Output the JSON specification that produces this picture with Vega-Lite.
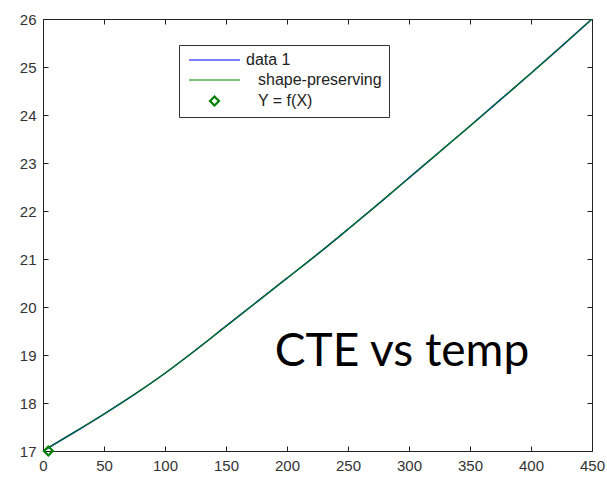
{
  "$schema": "https://vega.github.io/schema/vega-lite/v6.json",
  "width": 549,
  "height": 432,
  "autosize": {"type": "none"},
  "padding": {"left": 43, "top": 19, "right": 15, "bottom": 26},
  "background": "white",
  "config": {
    "view": {"stroke": null},
    "axis": {
      "grid": false,
      "title": null,
      "labelFont": "Liberation Sans",
      "labelFontSize": 15,
      "labelColor": "#333333",
      "labelFlush": false,
      "labelOverlap": false,
      "domainColor": "#222222",
      "tickColor": "#222222",
      "tickSize": -5,
      "labelPadding": 12
    }
  },
  "datasets": {
    "curves": [
      {"series": "data 1", "temp": 0, "cte": 17.0},
      {"series": "data 1", "temp": 25, "cte": 17.38},
      {"series": "data 1", "temp": 50, "cte": 17.77},
      {"series": "data 1", "temp": 75, "cte": 18.18},
      {"series": "data 1", "temp": 100, "cte": 18.62},
      {"series": "data 1", "temp": 125, "cte": 19.1},
      {"series": "data 1", "temp": 150, "cte": 19.6},
      {"series": "data 1", "temp": 175, "cte": 20.1},
      {"series": "data 1", "temp": 200, "cte": 20.6},
      {"series": "data 1", "temp": 225, "cte": 21.1},
      {"series": "data 1", "temp": 250, "cte": 21.62},
      {"series": "data 1", "temp": 275, "cte": 22.15},
      {"series": "data 1", "temp": 300, "cte": 22.69},
      {"series": "data 1", "temp": 325, "cte": 23.23},
      {"series": "data 1", "temp": 350, "cte": 23.77},
      {"series": "data 1", "temp": 375, "cte": 24.32},
      {"series": "data 1", "temp": 400, "cte": 24.87},
      {"series": "data 1", "temp": 425, "cte": 25.43},
      {"series": "data 1", "temp": 450, "cte": 26.0},
      {"series": "shape-preserving", "temp": 0, "cte": 17.0},
      {"series": "shape-preserving", "temp": 25, "cte": 17.38},
      {"series": "shape-preserving", "temp": 50, "cte": 17.77},
      {"series": "shape-preserving", "temp": 75, "cte": 18.18},
      {"series": "shape-preserving", "temp": 100, "cte": 18.62},
      {"series": "shape-preserving", "temp": 125, "cte": 19.1},
      {"series": "shape-preserving", "temp": 150, "cte": 19.6},
      {"series": "shape-preserving", "temp": 175, "cte": 20.1},
      {"series": "shape-preserving", "temp": 200, "cte": 20.6},
      {"series": "shape-preserving", "temp": 225, "cte": 21.1},
      {"series": "shape-preserving", "temp": 250, "cte": 21.62},
      {"series": "shape-preserving", "temp": 275, "cte": 22.15},
      {"series": "shape-preserving", "temp": 300, "cte": 22.69},
      {"series": "shape-preserving", "temp": 325, "cte": 23.23},
      {"series": "shape-preserving", "temp": 350, "cte": 23.77},
      {"series": "shape-preserving", "temp": 375, "cte": 24.32},
      {"series": "shape-preserving", "temp": 400, "cte": 24.87},
      {"series": "shape-preserving", "temp": 425, "cte": 25.43},
      {"series": "shape-preserving", "temp": 450, "cte": 26.0}
    ],
    "marker": [
      {"series": "Y = f(X)", "temp": 4.4, "cte": 17.0}
    ]
  },
  "layer": [
    {
      "data": {"name": "curves"},
      "transform": [{"filter": "datum.series === 'data 1'"}],
      "mark": {"type": "line", "strokeWidth": 1.5, "clip": true, "interpolate": "monotone"},
      "encoding": {
        "x": {"field": "temp", "type": "quantitative",
              "scale": {"domain": [0, 450], "nice": false, "zero": false},
              "axis": {"orient": "bottom", "values": [0, 50, 100, 150, 200, 250, 300, 350, 400, 450]}},
        "y": {"field": "cte", "type": "quantitative",
              "scale": {"domain": [17, 26], "nice": false, "zero": false},
              "axis": {"orient": "left", "values": [17, 18, 19, 20, 21, 22, 23, 24, 25, 26]}},
        "color": {"field": "series", "type": "nominal",
                  "scale": {"domain": ["data 1", "shape-preserving", "Y = f(X)"], "range": ["#0000ff", "#008000", "#008000"]},
                  "legend": {
                    "title": null,
                    "orient": "none",
                    "legendX": 136,
                    "legendY": 26,
                    "strokeColor": "#333333",
                    "fillColor": "white",
                    "padding": 7,
                    "labelFont": "Liberation Sans",
                    "labelFontSize": 16,
                    "labelColor": "#222222",
                    "symbolType": "stroke",
                    "symbolSize": 2601,
                    "symbolStrokeWidth": 1,
                    "labelOffset": 18,
                    "rowPadding": 4,
                    "encode": {
                      "symbols": {"update": {
                        "shape": {"signal": "datum.value === 'Y = f(X)' ? 'diamond' : 'stroke'"},
                        "size": {"signal": "datum.value === 'Y = f(X)' ? 80 : 2601"},
                        "strokeWidth": {"signal": "datum.value === 'Y = f(X)' ? 2.2 : 1"},
                        "x": {"value": 28.5},
                        "fill": {"value": "transparent"},
                        "opacity": {"value": 1}
                      }},
                      "labels": {"update": {
                        "x": {"signal": "datum.value === 'data 1' ? 60 : 72"}
                      }}
                    }
                  }}
      }
    },
    {
      "data": {"name": "curves"},
      "transform": [{"filter": "datum.series === 'shape-preserving'"}],
      "mark": {"type": "line", "strokeWidth": 1.2, "clip": true, "interpolate": "monotone"},
      "encoding": {
        "x": {"field": "temp", "type": "quantitative",
              "axis": {"orient": "top", "labels": false, "values": [0, 50, 100, 150, 200, 250, 300, 350, 400, 450]}},
        "y": {"field": "cte", "type": "quantitative",
              "axis": {"orient": "right", "labels": false, "values": [17, 18, 19, 20, 21, 22, 23, 24, 25, 26]}},
        "color": {"field": "series", "type": "nominal"}
      }
    },
    {
      "data": {"name": "marker"},
      "mark": {"type": "point", "shape": "diamond", "filled": false, "strokeWidth": 2.2, "size": 80, "opacity": 1},
      "encoding": {
        "x": {"field": "temp", "type": "quantitative", "axis": null},
        "y": {"field": "cte", "type": "quantitative", "axis": null},
        "color": {"field": "series", "type": "nominal"}
      }
    },
    {
      "data": {"values": [{}]},
      "mark": {"type": "text", "font": "Lato", "fontSize": 46, "align": "left", "baseline": "alphabetic", "color": "black"},
      "encoding": {
        "x": {"datum": 190, "type": "quantitative", "axis": null},
        "y": {"datum": 18.78, "type": "quantitative", "axis": null},
        "text": {"value": "CTE vs temp"}
      }
    }
  ],
  "resolve": {"axis": {"x": "independent", "y": "independent"}}
}
